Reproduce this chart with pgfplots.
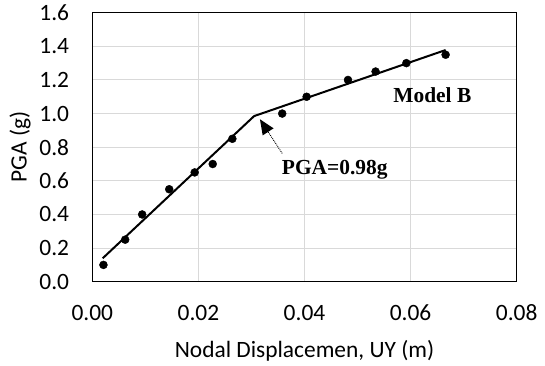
\documentclass[border=0pt]{standalone}
\usepackage{fontspec}
\setmainfont{Carlito}
\newfontfamily\tnr{Liberation Serif}
\usepackage{pgfplots}
\pgfplotsset{compat=1.18}
\usetikzlibrary{arrows.meta}

\begin{document}
\begin{tikzpicture}
\path[use as bounding box] (-92.3bp,-84.3bp) rectangle (452.7bp,281.7bp);
\begin{axis}[
 at={(0,0)}, anchor=south west,
 scale only axis, width=424.4bp, height=269bp,
 xmin=0, xmax=0.08, ymin=0, ymax=1.6,
 xtick={0,0.02,0.04,0.06,0.08},
 ytick={0,0.2,0.4,0.6,0.8,1.0,1.2,1.4,1.6},
 scaled x ticks=false, scaled y ticks=false,
 grid=major,
 major grid style={draw=black!15, line width=1bp},
 axis line style={line width=1.1bp},
 tick style={draw=none},
 /pgf/number format/assume math mode=true,
 xticklabel style={/pgf/number format/fixed, /pgf/number format/fixed zerofill, /pgf/number format/precision=2,
   anchor=base, inner sep=0pt, yshift=-38.3bp, font=\fontsize{23.5}{28}\selectfont},
 yticklabel style={/pgf/number format/fixed, /pgf/number format/fixed zerofill, /pgf/number format/precision=1,
   anchor=east, inner sep=0pt, xshift=-23bp, font=\fontsize{23.5}{28}\selectfont},
 xlabel={Nodal Displacemen, UY (m)},
 ylabel={PGA (g)},
 xlabel style={at={(axis description cs:0.5,0)}, anchor=base, yshift=-75.6bp, inner sep=0pt, font=\fontsize{23.5}{28}\selectfont},
 ylabel style={at={(axis description cs:-0.170,0.5)}, anchor=center, inner sep=0pt, font=\fontsize{23.5}{28}\selectfont},
 clip=false,
]
\addplot[only marks, mark=*, mark size=4bp, black] coordinates {
 (0.0021,0.10) (0.0062,0.25) (0.0094,0.40) (0.0145,0.55) (0.0193,0.65)
 (0.0227,0.70) (0.0264,0.85) (0.0358,1.00) (0.0404,1.10) (0.0482,1.20)
 (0.0534,1.25) (0.0592,1.30) (0.0666,1.35)
};
\addplot[black, line width=2bp, no marks] coordinates {
 (0.00195,0.139) (0.0305,0.985) (0.0666,1.378)
};
\draw[black, line width=0.9bp, densely dotted, -{Triangle[length=15bp,width=13bp,line width=0pt]}]
  (axis cs:0.0358,0.763) -- (axis cs:0.0316,0.966);
\node[anchor=base, inner sep=0pt, font=\tnr\bfseries\fontsize{21.5}{26}\selectfont] at (axis cs:0.0641,1.067) {Model B};
\node[anchor=base, inner sep=0pt, font=\tnr\bfseries\fontsize{21.5}{26}\selectfont] at (axis cs:0.0457,0.635) {PGA=0.98g};
\end{axis}
\end{tikzpicture}
\end{document}
